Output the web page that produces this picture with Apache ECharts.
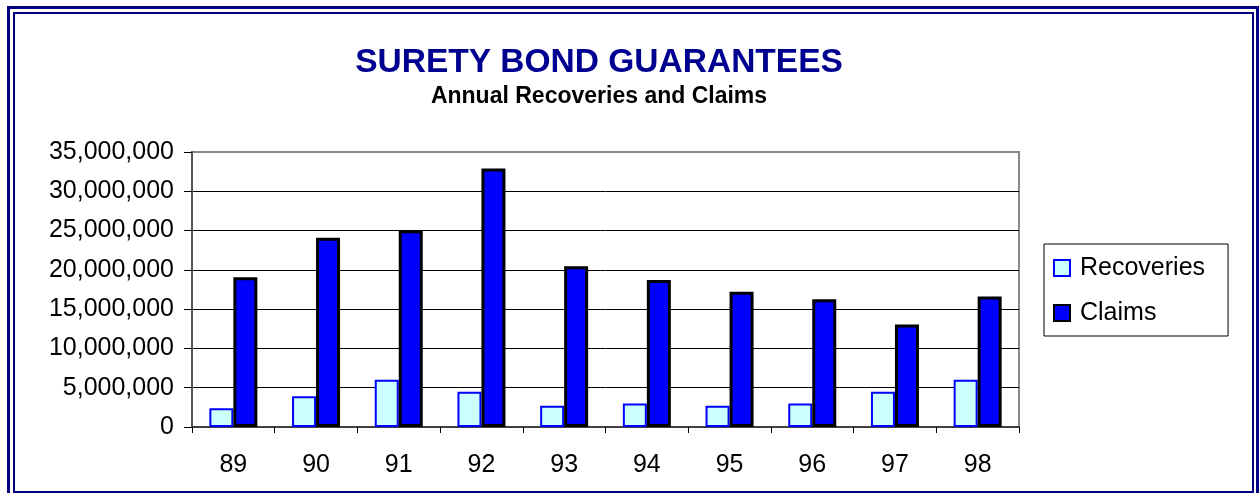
<!DOCTYPE html>
<html>
<head>
<meta charset="utf-8">
<script src="https://cdn.jsdelivr.net/npm/echarts@6/dist/echarts.min.js"></script>
<style>
html,body{margin:0;padding:0;background:#fff;}
#chart{width:1259px;height:493px;}
</style>
</head>
<body>
<div id="chart"></div>
<script>
var categories = ['89','90','91','92','93','94','95','96','97','98'];
var recoveries = [2400000, 3900000, 6000000, 4500000, 2700000, 3000000, 2700000, 3000000, 4500000, 6000000];
var claims = [19050000, 24100000, 25050000, 32900000, 20450000, 18700000, 17200000, 16250000, 13050000, 16600000];
var seriesNames = ['Recoveries', 'Claims'];
var titleText = 'SURETY BOND GUARANTEES';
var subtitleText = 'Annual Recoveries and Claims';

var FONT = '"Liberation Sans", Arial, sans-serif';
var chart = echarts.init(document.getElementById('chart'), null, {renderer: 'canvas'});

function fmt(v) {
  return String(v).replace(/\B(?=(\d{3})+(?!\d))/g, ',');
}

chart.setOption({
  animation: false,
  backgroundColor: '#ffffff',
  textStyle: {fontFamily: FONT},
  title: [
    {text: titleText, left: 599, top: 46, padding: 0, textAlign: 'center',
     textStyle: {fontFamily: FONT, fontSize: 33.5, fontWeight: 'bold', color: '#000090', lineHeight: 34}},
    {text: subtitleText, left: 599, top: 85, padding: 0, textAlign: 'center',
     textStyle: {fontFamily: FONT, fontSize: 23, fontWeight: 'bold', color: '#000000', lineHeight: 23}}
  ],
  graphic: [
    {type: 'rect', shape: {x: 8.5, y: 7.5, width: 1249, height: 490}, style: {fill: 'none', stroke: '#000080', lineWidth: 3}, silent: true, z: 100},
    {type: 'rect', shape: {x: 14, y: 13, width: 1239, height: 479}, style: {fill: 'none', stroke: '#000080', lineWidth: 2}, silent: true, z: 100}
  ],
  legend: {
    orient: 'vertical',
    left: 1044,
    top: 244,
    padding: [10, 23, 9, 9],
    borderColor: '#000000',
    borderWidth: 1,
    itemWidth: 16,
    itemHeight: 16,
    itemGap: 17,
    icon: 'rect',
    textStyle: {fontFamily: FONT, fontSize: 25, color: '#000', lineHeight: 28, padding: [0, 0, 0, 5]},
    data: [
      {name: seriesNames[0], itemStyle: {color: '#CCFFFF', borderColor: '#0000FF', borderWidth: 2}},
      {name: seriesNames[1], itemStyle: {color: '#0000FF', borderColor: '#000000', borderWidth: 2}}
    ]
  },
  grid: {
    left: 192, right: 240, top: 152, bottom: 66,
    show: true, borderColor: '#888888', borderWidth: 2, backgroundColor: '#ffffff'
  },
  xAxis: {
    type: 'category',
    data: categories,
    axisLine: {lineStyle: {color: '#404040', width: 2}},
    axisTick: {show: true, length: 6, lineStyle: {color: '#000', width: 1}},
    axisLabel: {fontFamily: FONT, fontSize: 25, color: '#000', margin: 26},
    splitLine: {show: false}
  },
  yAxis: {
    type: 'value',
    min: 0,
    max: 35000000,
    interval: 5000000,
    axisLine: {show: true, lineStyle: {color: '#555555', width: 2}},
    axisTick: {show: true, length: 8, lineStyle: {color: '#000', width: 1}},
    axisLabel: {fontFamily: FONT, fontSize: 25, color: '#000', margin: 18, formatter: fmt},
    splitLine: {show: true, lineStyle: {color: ['#000','#000','#000','#000','#000','#000','#000','#888'], width: 1}}
  },
  series: [
    {
      name: seriesNames[0], type: 'bar', data: recoveries,
      barWidth: 24, barGap: '0%',
      itemStyle: {color: '#CCFFFF', borderColor: '#0000FF', borderWidth: 2}
    },
    {
      name: seriesNames[1], type: 'bar', data: claims,
      barWidth: 24, barGap: '0%',
      itemStyle: {color: '#0000FF', borderColor: '#000000', borderWidth: 3}
    }
  ]
});
</script>
</body>
</html>
